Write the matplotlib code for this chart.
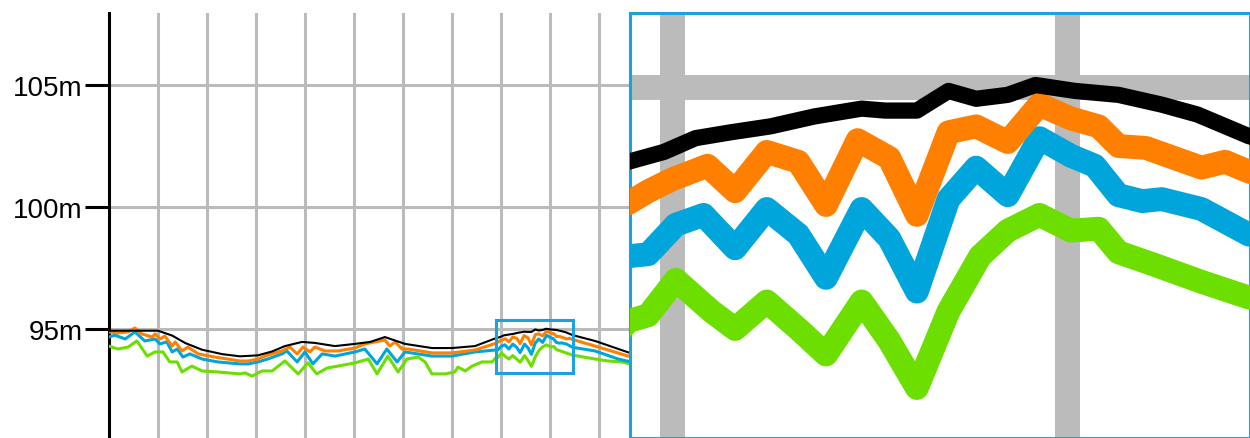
import matplotlib.pyplot as plt
from matplotlib.patches import Rectangle

plt.rcParams['font.family'] = ['Liberation Sans', 'DejaVu Sans']

# distance along the track (grid every 1 unit) and elevation in metres
x_black = [0.0, 1.0, 1.29, 1.55, 1.90, 2.31, 2.67, 3.04, 3.33, 3.59, 3.94, 4.20, 4.61, 5.02, 5.33,
           5.63, 6.04, 6.59, 7.00, 7.47, 7.89, 7.98, 8.06, 8.15, 8.25, 8.36, 8.48, 8.54, 8.62, 8.70,
           8.77, 8.85, 8.92, 9.02, 9.13, 9.24, 9.33, 9.46, 9.92, 10.63]
y_black = [94.93, 94.93, 94.73, 94.43, 94.15, 93.97, 93.88, 93.92, 94.08, 94.30, 94.47, 94.43, 94.30,
           94.39, 94.47, 94.67, 94.39, 94.22, 94.22, 94.30, 94.62, 94.67, 94.74, 94.77, 94.80, 94.85,
           94.89, 94.88, 94.88, 94.98, 94.94, 94.96, 95.01, 94.98, 94.96, 94.91, 94.86, 94.75, 94.51,
           94.02]

x_orange = [0.0, 0.18, 0.39, 0.53, 0.67, 0.88, 0.94, 1.04, 1.14, 1.29, 1.35, 1.49, 1.61, 1.82, 2.16,
            2.67, 2.84, 3.04, 3.24, 3.53, 3.69, 3.84, 3.96, 4.10, 4.20, 4.41, 4.67, 5.02, 5.22, 5.43,
            5.63, 5.73, 5.84, 5.98, 6.10, 6.59, 7.00, 7.47, 7.89, 7.94, 8.00, 8.09, 8.16, 8.24, 8.32,
            8.39, 8.47, 8.55, 8.62, 8.70, 8.77, 8.85, 8.93, 9.01, 9.08, 9.13, 9.20, 9.34, 9.40, 9.46,
            9.92, 10.63]
y_orange = [94.88, 94.84, 94.88, 95.04, 94.80, 94.67, 94.80, 94.59, 94.71, 94.30, 94.47, 94.10, 94.26,
            93.98, 93.85, 93.69, 93.69, 93.77, 93.93, 94.10, 94.26, 93.98, 94.26, 94.06, 94.26, 94.10,
            94.10, 94.22, 94.39, 94.47, 94.55, 94.30, 94.47, 94.18, 94.18, 94.02, 94.02, 94.14, 94.41,
            94.47, 94.53, 94.60, 94.47, 94.67, 94.62, 94.40, 94.73, 94.64, 94.35, 94.77, 94.80, 94.72,
            94.91, 94.84, 94.80, 94.70, 94.69, 94.59, 94.62, 94.57, 94.30, 93.87]

x_blue = [0.0, 0.12, 0.33, 0.53, 0.73, 0.94, 1.04, 1.18, 1.29, 1.39, 1.51, 1.65, 1.90, 2.22, 2.67,
          2.84, 3.04, 3.24, 3.53, 3.63, 3.84, 4.00, 4.16, 4.35, 4.61, 5.02, 5.22, 5.47, 5.67, 5.88,
          6.04, 6.59, 7.00, 7.47, 7.89, 7.94, 8.01, 8.08, 8.16, 8.24, 8.32, 8.39, 8.48, 8.55, 8.62,
          8.70, 8.77, 8.85, 8.93, 9.01, 9.07, 9.13, 9.19, 9.24, 9.34, 9.46, 9.92, 10.39, 10.63]
y_blue = [94.67, 94.75, 94.59, 94.88, 94.51, 94.59, 94.39, 94.47, 94.06, 94.18, 93.85, 93.98, 93.77,
          93.65, 93.57, 93.57, 93.65, 93.77, 93.98, 94.10, 93.65, 94.06, 93.57, 93.98, 93.89, 94.06,
          94.18, 93.57, 94.18, 93.65, 94.06, 93.89, 93.89, 94.06, 94.14, 94.15, 94.30, 94.35, 94.18,
          94.38, 94.25, 94.03, 94.38, 94.23, 93.96, 94.43, 94.59, 94.45, 94.74, 94.65, 94.60, 94.45,
          94.42, 94.43, 94.38, 94.25, 94.10, 93.77, 93.66]

x_green = [0.0, 0.18, 0.39, 0.57, 0.78, 0.94, 1.10, 1.24, 1.39, 1.49, 1.69, 1.90, 2.22, 2.67, 2.78,
           2.92, 3.12, 3.33, 3.59, 3.86, 4.06, 4.24, 4.45, 4.67, 5.02, 5.29, 5.47, 5.69, 5.90, 6.08,
           6.31, 6.45, 6.59, 6.86, 7.06, 7.12, 7.27, 7.41, 7.61, 7.82, 7.89, 7.94, 8.01, 8.10, 8.16,
           8.24, 8.32, 8.39, 8.48, 8.55, 8.62, 8.70, 8.78, 8.85, 8.93, 9.01, 9.08, 9.13, 9.23, 9.34,
           9.46, 9.92, 10.18, 10.47, 10.63]
y_green = [94.30, 94.18, 94.26, 94.51, 93.89, 94.06, 94.06, 93.65, 93.65, 93.24, 93.48, 93.28, 93.24,
           93.16, 93.20, 93.07, 93.28, 93.28, 93.69, 93.16, 93.61, 93.16, 93.40, 93.48, 93.61, 93.77,
           93.16, 93.89, 93.24, 93.77, 93.85, 93.65, 93.16, 93.16, 93.24, 93.44, 93.28, 93.48, 93.65,
           93.65, 93.81, 93.84, 94.02, 93.86, 93.77, 93.91, 93.77, 93.64, 93.91, 93.71, 93.47, 93.86,
           94.14, 94.27, 94.35, 94.27, 94.28, 94.16, 94.09, 94.01, 93.93, 93.77, 93.69, 93.65, 93.57]

ytick_values = [95, 100, 105]
ytick_labels = ['95m', '100m', '105m']
xgrid_values = [1, 2, 3, 4, 5, 6, 7, 8, 9, 10]

series = [
    (x_green, y_green, '#6cdf00', 2.2),
    (x_blue, y_blue, '#00a5db', 2.2),
    (x_orange, y_orange, '#ff8000', 2.2),
    (x_black, y_black, '#000000', 1.5),
]

zoom_x = (7.894, 9.463)
zoom_y = (93.216, 95.376)
grid_col = '#bbbbbb'
frame_col = '#1aa3dd'

fig = plt.figure(figsize=(12.5, 4.39), dpi=100)

# main view
ax = fig.add_axes([109 / 1250, 0, (630 - 109) / 1250, 1 - 14 / 439])
for xs, ys, c, lw in series:
    ax.plot(xs, ys, color=c, linewidth=lw, zorder=3)
ax.set_yticks(ytick_values)
ax.set_yticklabels(ytick_labels, fontsize=20)
ax.set_xticks(xgrid_values)
ax.set_xlim(0, (630 - 109) / 49)
ax.set_ylim(95 - 109 / 24.4, 105 + 72 / 24.4)
ax.tick_params(axis='x', length=0, labelbottom=False)
ax.tick_params(axis='y', length=17, width=2.2, pad=2, color='black')
ax.grid(True, color=grid_col, linewidth=2.2, zorder=0)
ax.set_axisbelow(True)
for s in ['top', 'right', 'bottom']:
    ax.spines[s].set_visible(False)
ax.spines['left'].set_linewidth(2.2)
ax.add_patch(Rectangle((zoom_x[0], zoom_y[0]), zoom_x[1] - zoom_x[0], zoom_y[1] - zoom_y[0],
                       fill=False, edgecolor=frame_col, linewidth=2.2, zorder=4))

# magnified view
axz = fig.add_axes([630 / 1250, 0, 620 / 1250, 1 - 14 / 439])
for xs, ys, c, lw in series:
    axz.plot(xs, ys, color=c, linewidth=lw * 7.8, solid_joinstyle='round',
             solid_capstyle='round', zorder=3)
axz.set_xticks(xgrid_values)
axz.set_yticks(ytick_values)
axz.set_xlim(*zoom_x)
axz.set_ylim(*zoom_y)
axz.tick_params(length=0, labelbottom=False, labelleft=False)
axz.grid(True, color=grid_col, linewidth=18, zorder=0)
axz.set_axisbelow(True)
for s in axz.spines.values():
    s.set_color(frame_col)
    s.set_linewidth(2.2)

plt.savefig('out.png', dpi=100)
